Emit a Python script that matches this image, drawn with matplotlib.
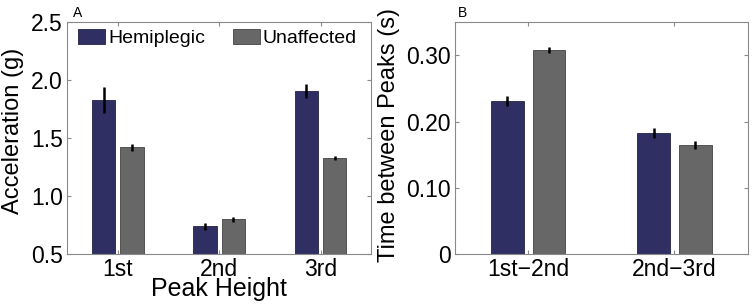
import numpy as np
import matplotlib.pyplot as plt

plt.rcParams['font.family'] = ['Liberation Sans', 'DejaVu Sans']

# panel A data
peaks = ['1st', '2nd', '3rd']
acc_hemi = [1.83, 0.74, 1.91]
acc_hemi_err = [0.11, 0.03, 0.06]
acc_unaff = [1.42, 0.80, 1.33]
acc_unaff_err = [0.03, 0.02, 0.02]

# panel B data
intervals = ['1st\u22122nd', '2nd\u22123rd']
time_hemi = [0.231, 0.183]
time_hemi_err = [0.007, 0.008]
time_unaff = [0.308, 0.164]
time_unaff_err = [0.005, 0.006]

blue = '#2f2f63'
gray = '#676767'
spine = '#8a8a8a'

fig = plt.figure(figsize=(7.53, 3.04), dpi=100)
axA = fig.add_axes([0.089, 0.164, 0.404, 0.763])
axB = fig.add_axes([0.604, 0.164, 0.389, 0.763])


def grouped(ax, n, h, he, u, ue, w, off):
    x = np.arange(1, n + 1)
    bh = ax.bar(x - off, h, w, color=blue, edgecolor='#222244', linewidth=0.6)
    bu = ax.bar(x + off, u, w, color=gray, edgecolor='#444444', linewidth=0.6)
    ax.errorbar(x - off, h, yerr=he, fmt='none', ecolor='black', elinewidth=1.8, capsize=0)
    ax.errorbar(x + off, u, yerr=ue, fmt='none', ecolor='black', elinewidth=1.8, capsize=0)
    ax.set_xticks(x)
    ax.set_xlim(0.5, n + 0.5)
    for s in ax.spines.values():
        s.set_color(spine)
        s.set_linewidth(0.8)
    ax.tick_params(direction='in', top=True, right=True, length=3, color=spine,
                   labelsize=16.5)
    ax.tick_params(axis='y', pad=3)
    ax.tick_params(axis='x', pad=3)
    return bh, bu


bh, bu = grouped(axA, 3, acc_hemi, acc_hemi_err, acc_unaff, acc_unaff_err, 0.23, 0.14)
axA.set_xticklabels(peaks)
axA.set_ylim(0.5, 2.5)
axA.set_yticks([0.5, 1.0, 1.5, 2.0, 2.5])
axA.set_yticklabels(['0.5', '1.0', '1.5', '2.0', '2.5'])
axA.set_ylabel('Acceleration (g)', fontsize=17, va='center')
axA.yaxis.set_label_coords(-0.178, 0.53)
axA.set_xlabel('Peak Height', fontsize=18, va='baseline')
axA.xaxis.set_label_coords(0.5, -0.181)
axA.legend([bh, bu], ['Hemiplegic', 'Unaffected'], ncol=2, frameon=False,
           loc='upper left', bbox_to_anchor=(0.036, 0.97), fontsize=14,
           handlelength=1.39, handleheight=0.82, columnspacing=1.44, handletextpad=0.15,
           borderaxespad=0, borderpad=0)
axA.text(0.018, 1.01, 'A', transform=axA.transAxes, fontsize=10, va='bottom')

grouped(axB, 2, time_hemi, time_hemi_err, time_unaff, time_unaff_err, 0.225, 0.143)
axB.set_xticklabels(intervals)
axB.set_ylim(0, 0.35)
axB.set_yticks([0, 0.1, 0.2, 0.3])
axB.set_yticklabels(['0', '0.10', '0.20', '0.30'])
axB.set_ylabel('Time between Peaks (s)', fontsize=17, va='center')
axB.yaxis.set_label_coords(-0.225, 0.513)
axB.text(0.01, 1.01, 'B', transform=axB.transAxes, fontsize=10, va='bottom')

fig.savefig('out.png', dpi=100)
